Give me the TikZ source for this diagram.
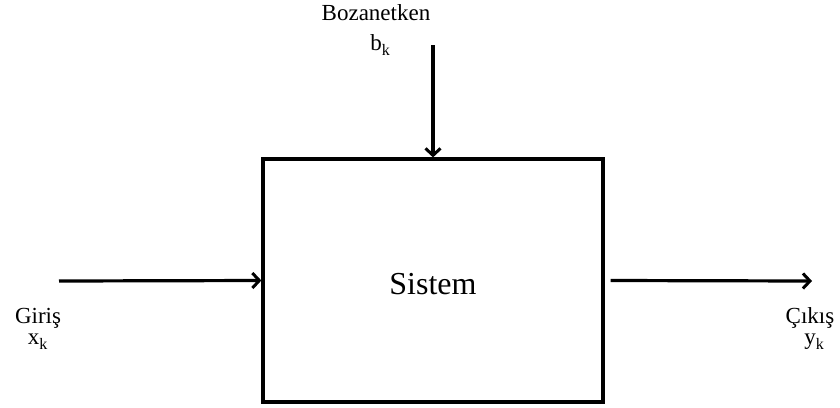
\documentclass[tikz,border=0pt]{standalone}
\usepackage{fontspec}
\setmainfont{Liberation Serif}
\usetikzlibrary{arrows.meta}
\newcommand{\subk}{\raisebox{-5bp}{\fontsize{16bp}{16bp}\selectfont k}}
\begin{document}
\begin{tikzpicture}[x=1bp,y=-1bp,
  blockbox/.style={draw,line width=3.2bp,minimum width=340bp,minimum height=243bp,inner sep=0pt,
    font=\fontsize{32bp}{36bp}\selectfont},
  flow/.style={line width=3.2bp,-{Straight Barb[length=7bp,width=15bp,line width=3bp]}},
  lbl/.style={anchor=base,inner sep=0pt,font=\fontsize{23bp}{26bp}\selectfont}]
  \useasboundingbox (0,0) rectangle (840,407);
  % system block
  \node[blockbox] (sys) at (433,280.5) {};
  \node[anchor=base,inner sep=0pt,font=\fontsize{32bp}{36bp}\selectfont] (systxt) at (433,294) {Sistem};
  % signal end points
  \coordinate (in) at (59,281);
  \coordinate (dist) at (433,45);
  \coordinate (out) at (812,281);
  % connectors
  \draw[flow] (in) -- (sys.west);
  \draw[flow] (dist) -- (sys.north);
  \draw[flow] ([xshift=6bp]sys.east) -- (out);
  % labels
  \node[lbl] (bname) at (376,20.7) {Bozanetken};
  \node[lbl] (bsym) at (380,50) {b\subk};
  \node[lbl] (xname) at (38,323) {Giriş};
  \node[lbl] (xsym) at (37.5,344) {x\subk};
  \node[lbl] (yname) at (810,323) {Çıkış};
  \node[lbl] (ysym) at (814,344) {y\subk};
\end{tikzpicture}
\end{document}
